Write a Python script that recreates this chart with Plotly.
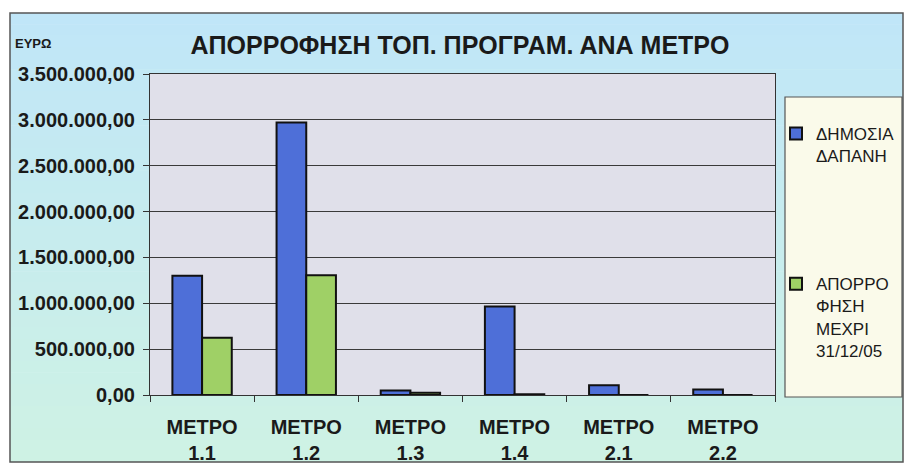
import plotly.graph_objects as go

# ---- data ----
categories = ["ΜΕΤΡΟ<br>1.1", "ΜΕΤΡΟ<br>1.2", "ΜΕΤΡΟ<br>1.3", "ΜΕΤΡΟ<br>1.4", "ΜΕΤΡΟ<br>2.1", "ΜΕΤΡΟ<br>2.2"]
dimosia_dapani = [1300000, 2970000, 48000, 965000, 105000, 60000]
aporrofisi = [625000, 1305000, 25000, 8000, 0, 0]
series_names = ["ΔΗΜΟΣΙΑ<br>ΔΑΠΑΝΗ", "ΑΠΟΡΡΟ<br>ΦΗΣΗ<br>ΜΕΧΡΙ<br>31/12/05"]
y_tickvals = [0, 500000, 1000000, 1500000, 2000000, 2500000, 3000000, 3500000]
y_ticktext = ["0,00", "500.000,00", "1.000.000,00", "1.500.000,00", "2.000.000,00",
              "2.500.000,00", "3.000.000,00", "3.500.000,00"]
title_text = "ΑΠΟΡΡΟΦΗΣΗ ΤΟΠ. ΠΡΟΓΡΑΜ. ΑΝΑ ΜΕΤΡΟ"
unit_text = "ΕΥΡΩ"

FONT = "Liberation Sans, Arial, sans-serif"
W, H = 904, 470
L, R, T, B = 150, 129, 74, 75
PW, PH = W - L - R, H - T - B


def px_x(p):
    return (p - L) / PW


def px_y(p):
    return (H - B - p) / PH


fig = go.Figure()
fig.add_trace(go.Bar(
    x=categories, y=dimosia_dapani, name=series_names[0], legendgroup="a",
    marker=dict(color="#4e6fd8", line=dict(color="#111111", width=2)),
))
fig.add_trace(go.Bar(
    x=categories, y=aporrofisi, name=series_names[1], legendgroup="b",
    marker=dict(color="#9fd066", line=dict(color="#111111", width=2)),
))

shapes = []
# gradient background inside frame
fx0, fx1, fy0, fy1 = 10, 903, 13, 462
n = 40
top_c = (192, 230, 248)
bot_c = (206, 242, 228)
for i in range(n):
    t = i / (n - 1)
    c = tuple(int(round(top_c[k] + (bot_c[k] - top_c[k]) * t)) for k in range(3))
    ya = fy0 + (fy1 - fy0) * i / n
    yb = fy0 + (fy1 - fy0) * (i + 1) / n + 0.6
    shapes.append(dict(type="rect", xref="paper", yref="paper", layer="below",
                       x0=px_x(fx0), x1=px_x(fx1), y0=px_y(min(yb, fy1)), y1=px_y(ya),
                       fillcolor="rgb(%d,%d,%d)" % c, line=dict(width=0)))
# frame border
shapes.append(dict(type="rect", xref="paper", yref="paper", layer="below",
                   x0=px_x(fx0), x1=px_x(fx1), y0=px_y(fy1), y1=px_y(fy0),
                   fillcolor="rgba(0,0,0,0)", line=dict(color="#555555", width=1.5)))
# plot area background
shapes.append(dict(type="rect", xref="paper", yref="paper", layer="below",
                   x0=0, x1=1, y0=0, y1=1, fillcolor="#e0e0ea", line=dict(width=0)))
# legend box
shapes.append(dict(type="rect", xref="paper", yref="paper", layer="below",
                   x0=px_x(785), x1=px_x(902), y0=px_y(397), y1=px_y(97),
                   fillcolor="#fafaea", line=dict(color="#555555", width=1.2)))

fig.update_layout(
    width=W, height=H,
    margin=dict(l=L, r=R, t=T, b=B, autoexpand=False),
    paper_bgcolor="white",
    plot_bgcolor="rgba(0,0,0,0)",
    barmode="group",
    bargap=0.43,
    bargroupgap=0,
    font=dict(family=FONT, color="#1a1a1a"),
    title=dict(text=title_text, x=px_x(460), xref="paper", xanchor="center",
               y=1 - 45 / H, yref="container", yanchor="middle",
               font=dict(size=25, family=FONT, color="#1a1a1a", weight="bold")),
    shapes=shapes,
    showlegend=True,
    legend=dict(x=px_x(776), xanchor="left", y=px_y(116), yanchor="top",
                bgcolor="rgba(0,0,0,0)", borderwidth=0,
                font=dict(size=17, family=FONT, color="#1a1a1a"),
                valign="top", tracegroupgap=103, traceorder="grouped"),
    annotations=[dict(text=unit_text, xref="paper", yref="paper",
                      x=px_x(13), y=px_y(43), xanchor="left", yanchor="middle",
                      showarrow=False,
                      font=dict(size=13, family=FONT, color="#1a1a1a", weight="bold"))],
)

fig.update_xaxes(
    type="category", automargin=False,
    showline=True, linecolor="#333333", linewidth=1.2, mirror=True,
    ticks="outside", ticklen=6, tickcolor="#333333", tickson="boundaries",
    tickfont=dict(size=20, family=FONT, color="#1a1a1a", weight="bold"),
    ticklabelstandoff=14,
    showgrid=False,
)
fig.update_yaxes(
    range=[0, 3500000], automargin=False,
    tickvals=y_tickvals, ticktext=y_ticktext,
    showline=True, linecolor="#333333", linewidth=1.2, mirror=True,
    ticks="outside", ticklen=6, tickcolor="#333333",
    tickfont=dict(size=20, family=FONT, color="#1a1a1a", weight="bold"),
    ticklabelstandoff=4,
    showgrid=True, gridcolor="#3a3a3a", gridwidth=1,
    zeroline=False,
)

fig.write_html("out.html", config={"displayModeBar": False},
               post_script="document.body.style.margin='0';document.body.style.overflow='hidden';")
